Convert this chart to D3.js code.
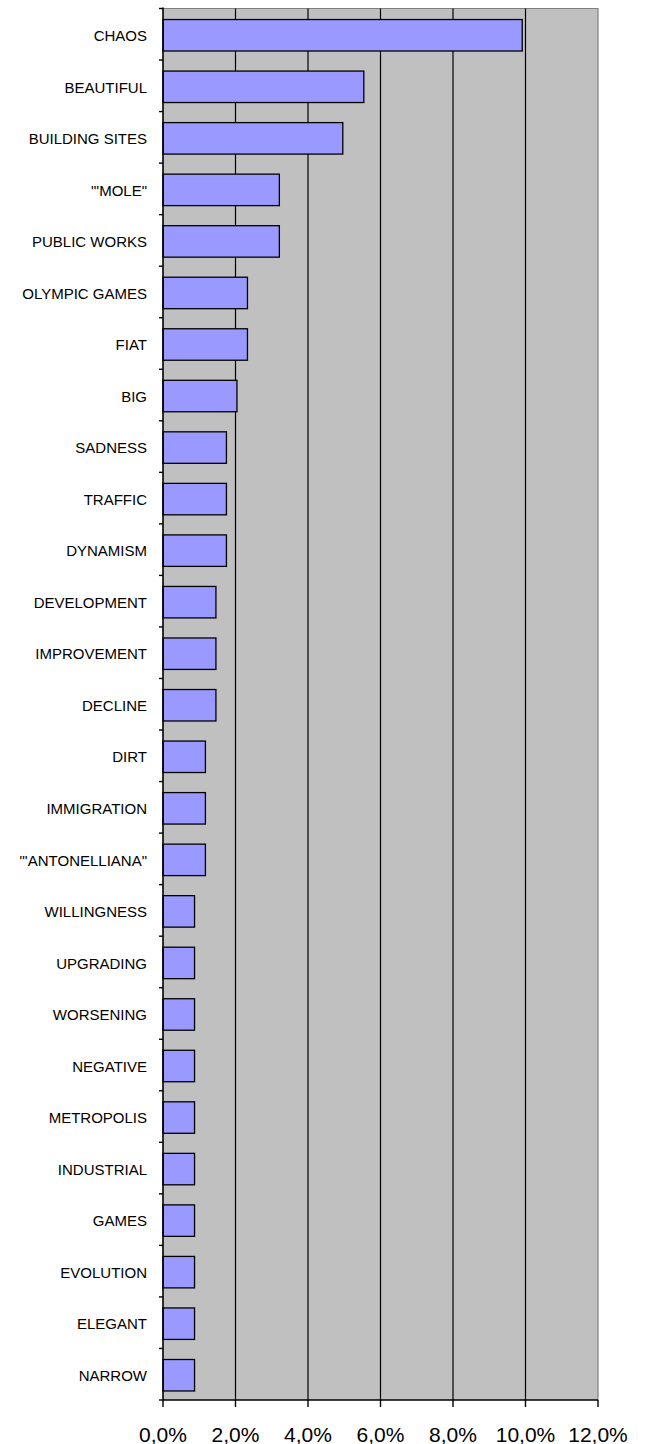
<!DOCTYPE html>
<html>
<head>
<meta charset="utf-8">
<script src="https://cdn.jsdelivr.net/npm/d3@7"></script>
<style>
  html, body { margin: 0; padding: 0; background: #ffffff; }
  svg { display: block; }
  text { font-family: "Liberation Sans", Arial, sans-serif; fill: #000; }
</style>
</head>
<body>
<svg id="chart" width="645" height="1444"></svg>
<script>
// Words associated with the city, share of responses (%)
const categories = [
  "CHAOS", "BEAUTIFUL", "BUILDING SITES", "\"'MOLE\"", "PUBLIC WORKS",
  "OLYMPIC GAMES", "FIAT", "BIG", "SADNESS", "TRAFFIC", "DYNAMISM",
  "DEVELOPMENT", "IMPROVEMENT", "DECLINE", "DIRT", "IMMIGRATION",
  "\"'ANTONELLIANA\"", "WILLINGNESS", "UPGRADING", "WORSENING", "NEGATIVE",
  "METROPOLIS", "INDUSTRIAL", "GAMES", "EVOLUTION", "ELEGANT", "NARROW"
];
const values = [
  9.91, 5.54, 4.96, 3.21, 3.21,
  2.33, 2.33, 2.04, 1.75, 1.75, 1.75,
  1.46, 1.46, 1.46, 1.17, 1.17,
  1.17, 0.87, 0.87, 0.87, 0.87,
  0.87, 0.87, 0.87, 0.87, 0.87, 0.87
];
const xTicks = [0, 2, 4, 6, 8, 10, 12];
const xTickLabels = ["0,0%", "2,0%", "4,0%", "6,0%", "8,0%", "10,0%", "12,0%"];

const svg = d3.select("#chart");
const plot = { left: 163, right: 598, top: 8.5, bottom: 1400 };

const x = d3.scaleLinear().domain([0, 12]).range([plot.left, plot.right]);
const y = d3.scaleBand()
  .domain(categories)
  .range([plot.top + 1, plot.bottom + 1])
  .paddingInner(0.37)
  .paddingOuter(0.185);
const yEdge = d3.scaleBand().domain(categories).range([plot.top, plot.bottom]);

// plot background
svg.append("rect")
  .attr("x", plot.left).attr("y", plot.top)
  .attr("width", plot.right - plot.left).attr("height", plot.bottom - plot.top)
  .attr("fill", "#c0c0c0");

// top and right frame
svg.append("path")
  .attr("d", `M${plot.left},${plot.top}H${plot.right}V${plot.bottom}`)
  .attr("fill", "none").attr("stroke", "#808080").attr("stroke-width", 1.2);

// vertical gridlines
svg.append("g").selectAll("line")
  .data(xTicks.filter(t => t > 0 && t < 12))
  .join("line")
  .attr("x1", d => x(d)).attr("x2", d => x(d))
  .attr("y1", plot.top).attr("y2", plot.bottom)
  .attr("stroke", "#000").attr("stroke-width", 1.2);

// bars
svg.append("g").selectAll("rect")
  .data(categories)
  .join("rect")
  .attr("x", x(0))
  .attr("y", d => y(d) + 0.5)
  .attr("width", (d, i) => x(values[i]) - x(0))
  .attr("height", y.bandwidth() - 1)
  .attr("fill", "#9999ff")
  .attr("stroke", "#000")
  .attr("stroke-width", 1.3);

// category axis
const yAxis = svg.append("g");
yAxis.append("line")
  .attr("x1", plot.left).attr("x2", plot.left)
  .attr("y1", plot.top - 1).attr("y2", plot.bottom)
  .attr("stroke", "#000").attr("stroke-width", 1.6);
yAxis.selectAll("line.tick")
  .data(categories.map(c => yEdge(c)).concat([plot.bottom]))
  .join("line")
  .attr("class", "tick")
  .attr("x1", plot.left - 4).attr("x2", plot.left)
  .attr("y1", d => d).attr("y2", d => d)
  .attr("stroke", "#000").attr("stroke-width", 1.4);
yAxis.selectAll("text")
  .data(categories)
  .join("text")
  .attr("x", plot.left - 16)
  .attr("y", d => y(d) + y.bandwidth() / 2 + 0.3)
  .attr("dy", "0.36em")
  .attr("text-anchor", "end")
  .style("font-size", "15px")
  .text(d => d);

// value axis
const xAxis = svg.append("g");
xAxis.append("line")
  .attr("x1", plot.left).attr("x2", plot.right)
  .attr("y1", plot.bottom).attr("y2", plot.bottom)
  .attr("stroke", "#000").attr("stroke-width", 1.6);
xAxis.selectAll("line.tick")
  .data(xTicks)
  .join("line")
  .attr("class", "tick")
  .attr("x1", d => x(d)).attr("x2", d => x(d))
  .attr("y1", plot.bottom).attr("y2", plot.bottom + 7)
  .attr("stroke", "#000").attr("stroke-width", 1.4);
xAxis.selectAll("text")
  .data(xTicks)
  .join("text")
  .attr("x", d => x(d))
  .attr("y", 1441.5)
  .attr("text-anchor", "middle")
  .style("font-size", "21px")
  .text((d, i) => xTickLabels[i]);
</script>
</body>
</html>
